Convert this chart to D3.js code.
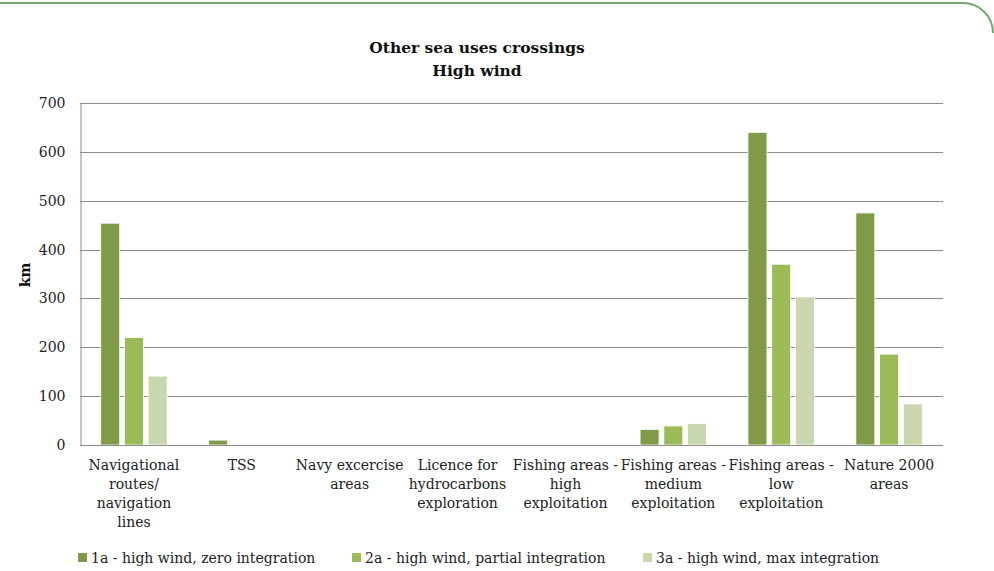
<!DOCTYPE html>
<html>
<head>
<meta charset="utf-8">
<script src="https://cdn.jsdelivr.net/npm/d3@7"></script>
<style>
  html, body { margin: 0; padding: 0; background: #fff; }
  svg { display: block; font-family: "DejaVu Serif", serif; }
</style>
</head>
<body>
<svg id="chart" width="994" height="571"></svg>
<script>
// ---- data ----
const categories = [
  ["Navigational", "routes/", "navigation", "lines"],
  ["TSS"],
  ["Navy excercise", "areas"],
  ["Licence for", "hydrocarbons", "exploration"],
  ["Fishing areas -", "high", "exploitation"],
  ["Fishing areas -", "medium", "exploitation"],
  ["Fishing areas -", "low", "exploitation"],
  ["Nature 2000", "areas"]
];
const seriesNames = [
  "1a - high wind, zero integration",
  "2a - high wind, partial integration",
  "3a - high wind, max integration"
];
const values1a = [454, 10, 0, 0, 0, 32, 640, 475];
const values2a = [220, 0, 0, 0, 0, 39, 370, 186];
const values3a = [141, 0, 0, 0, 0, 44, 303, 84];
const yTicks = [0, 100, 200, 300, 400, 500, 600, 700];
const colors = ["#809a48", "#9bbb59", "#c8d7ae"];

const title = ["Other sea uses crossings", "High wind"];
const yLabel = "km";

// ---- layout ----
const svg = d3.select("#chart");
const L = 80, R = 943, T = 103, B = 445;

// outer rounded frame line
svg.append("path")
  .attr("d", `M0,3 H963 A30,30 0 0 1 993,33`)
  .attr("fill", "none")
  .attr("stroke", "#72a772")
  .attr("stroke-width", 2);

const x0 = d3.scaleBand().domain(d3.range(categories.length)).range([L, R]).padding(0);
const bw = x0.bandwidth();
const x1 = d3.scaleBand().domain([0, 1, 2]).range([bw * 0.192, bw * 0.808]).paddingInner(0.2).paddingOuter(0);
const y = d3.scaleLinear().domain([0, 700]).range([B, T]);

// gridlines
svg.append("g").selectAll("line").data(yTicks.filter(d => d > 0)).join("line")
  .attr("x1", L).attr("x2", R)
  .attr("y1", d => Math.round(y(d)) + 0.5).attr("y2", d => Math.round(y(d)) + 0.5)
  .attr("stroke", "#8c8c8c").attr("stroke-width", 1);

// y axis
const yAxis = d3.axisLeft(y).tickValues(yTicks).tickSize(0).tickPadding(15);
const gy = svg.append("g").attr("transform", `translate(${L + 0.5},0)`).call(yAxis);
gy.select(".domain").attr("stroke", "#8c8c8c");
gy.selectAll("text").attr("font-family", "DejaVu Serif").attr("font-size", 14).attr("fill", "#222");

// bars
const allSeries = [values1a, values2a, values3a];
const groups = svg.append("g").selectAll("g").data(categories.map((c, i) => i)).join("g")
  .attr("transform", i => `translate(${x0(i)},0)`);
groups.selectAll("rect")
  .data(i => allSeries.map((s, k) => ({ k, v: s[i] })).filter(d => d.v > 0))
  .join("rect")
  .attr("x", d => x1(d.k))
  .attr("width", x1.bandwidth())
  .attr("y", d => y(d.v))
  .attr("height", d => y(0) - y(d.v))
  .attr("fill", d => colors[d.k])
  .attr("stroke", "#fff").attr("stroke-width", 0.8);

// x axis baseline
svg.append("line").attr("x1", L).attr("x2", R)
  .attr("y1", B + 0.5).attr("y2", B + 0.5)
  .attr("stroke", "#8c8c8c");

// x labels
const xl = svg.append("g").selectAll("text").data(categories).join("text")
  .attr("x", (d, i) => x0(i) + bw / 2)
  .attr("y", 470)
  .attr("text-anchor", "middle")
  .attr("font-size", 14)
  .attr("fill", "#222");
xl.selectAll("tspan").data(d => d).join("tspan")
  .attr("x", function () { return d3.select(this.parentNode).attr("x"); })
  .attr("dy", (d, j) => j === 0 ? 0 : 19)
  .text(d => d);

// title
svg.append("text").attr("x", 477).attr("y", 53).attr("text-anchor", "middle")
  .attr("font-weight", "bold").attr("font-size", 15.5).attr("fill", "#111")
  .selectAll("tspan").data(title).join("tspan")
  .attr("x", 477).attr("dy", (d, j) => j === 0 ? 0 : 23).text(d => d);

// y label
svg.append("text").attr("transform", "translate(30,275) rotate(-90)")
  .attr("text-anchor", "middle").attr("font-weight", "bold").attr("font-size", 14)
  .attr("fill", "#111").text(yLabel);

// legend
const legendX = [78, 352, 643];
const lg = svg.append("g").selectAll("g").data(seriesNames).join("g")
  .attr("transform", (d, i) => `translate(${legendX[i]},553)`);
lg.append("rect").attr("width", 9).attr("height", 9).attr("fill", (d, i) => colors[i]);
lg.append("text").attr("x", 13).attr("y", 9.5).attr("font-size", 14).attr("fill", "#222").text(d => d);
</script>
</body>
</html>
